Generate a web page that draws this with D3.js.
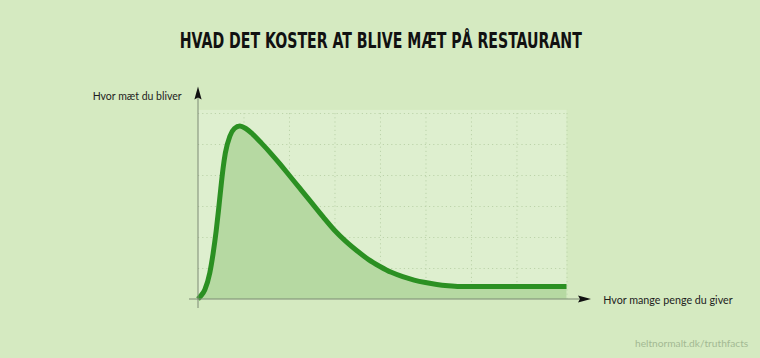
<!DOCTYPE html>
<html><head><meta charset="utf-8">
<script src="https://cdn.jsdelivr.net/npm/d3@7"></script>
<style>
html,body{margin:0;padding:0;background:#d5eac1;}
svg{display:block;}
</style></head>
<body>
<svg id="c" width="760" height="358"></svg>
<script>
// ---- data ----
const title = "HVAD DET KOSTER AT BLIVE MÆT PÅ RESTAURANT";
const yLabel = "Hvor mæt du bliver";
const xLabel = "Hvor mange penge du giver";
const credit = "heltnormalt.dk/truthfacts";
// money spent (grid units)
const money = [0, 0.05, 0.15, 0.26, 0.33, 0.4, 0.45, 0.5, 0.55, 0.6, 0.7, 0.8, 0.92, 1.05, 1.2, 1.4, 1.6, 1.8, 2.0, 2.25, 2.5, 2.75, 3.0, 3.25, 3.5, 3.75, 4.0, 4.25, 4.5, 4.75, 5.0, 5.25, 5.5, 5.75, 6.0, 8.1];
// how full you get (grid units)
const fullness = [0, 0.08, 0.3, 0.85, 1.45, 2.2, 2.85, 3.55, 4.2, 4.7, 5.25, 5.5, 5.58, 5.5, 5.32, 5.02, 4.7, 4.36, 4.0, 3.55, 3.1, 2.65, 2.22, 1.86, 1.55, 1.27, 1.05, 0.86, 0.72, 0.61, 0.53, 0.47, 0.43, 0.405, 0.4, 0.4];
const xGridTicks = [1, 2, 3, 4, 5, 6, 7];
const yGridTicks = [1, 2, 3, 4, 5, 6];

const pts = money.map((m, i) => ({x: m, y: fullness[i]}));

const svg = d3.select("#c");
const x = d3.scaleLinear().domain([0, 8.1]).range([198, 566.5]);
const y = d3.scaleLinear().domain([0, 6]).range([299, 113]);

// background
svg.append("rect").attr("width", 760).attr("height", 358).attr("fill", "#d5eac1");
// plot panel
svg.append("rect")
  .attr("x", x(0)).attr("y", y(6.1))
  .attr("width", x(8.1) - x(0)).attr("height", y(0) - y(6.1))
  .attr("fill", "#deefcf");

// grid via axes
const gridStyle = g => {
  g.select(".domain").remove();
  g.selectAll("text").remove();
  g.selectAll("line").attr("stroke", "#bcd3aa").attr("stroke-width", 1).attr("stroke-dasharray", "1.2,3");
};
svg.append("g").attr("transform", `translate(0,${y(0)})`)
  .call(d3.axisBottom(x).tickValues(xGridTicks).tickSize(-(y(0) - y(6))).tickFormat(""))
  .call(gridStyle);
svg.append("g").attr("transform", `translate(${x(0)},0)`)
  .call(d3.axisLeft(y).tickValues(yGridTicks).tickSize(-(x(8.1) - x(0))).tickFormat(""))
  .call(gridStyle);
// right dotted border
svg.append("g").attr("transform", `translate(0,${y(0)})`)
  .call(d3.axisBottom(x).tickValues([8.1]).tickSize(-(y(0) - y(6.1))).tickFormat(""))
  .call(gridStyle);

// area + line
const curve = d3.curveMonotoneX;
svg.append("path").datum(pts)
  .attr("d", d3.area().x(d => x(d.x)).y0(y(0)).y1(d => y(d.y)).curve(curve))
  .attr("fill", "#b6d9a2");
svg.append("path").datum(pts)
  .attr("d", d3.line().x(d => x(d.x)).y(d => y(d.y)).curve(curve))
  .attr("fill", "none").attr("stroke", "#2b9022").attr("stroke-width", 5)
  .attr("stroke-linejoin", "round").attr("stroke-linecap", "butt");

// axes lines
svg.append("line").attr("x1", x(0)).attr("x2", x(0)).attr("y1", 97).attr("y2", 308)
  .attr("stroke", "#7d8a74").attr("stroke-width", 1);
svg.append("line").attr("x1", 189).attr("x2", 584).attr("y1", y(0)).attr("y2", y(0))
  .attr("stroke", "#7d8a74").attr("stroke-width", 1);
// arrowheads
const ax = x(0);
svg.append("path")
  .attr("d", `M${ax},86.5 L${ax + 3.6},99.5 L${ax},97.5 L${ax - 3.6},99.5 Z`)
  .attr("fill", "#111");
const ay = y(0);
svg.append("path")
  .attr("d", `M591,${ay} L578,${ay - 3.6} L580,${ay} L578,${ay + 3.6} Z`)
  .attr("fill", "#111");

// text
function fitText(sel, w) {
  const n = sel.node();
  const cur = n.getComputedTextLength();
  const fs = parseFloat(sel.attr("font-size"));
  sel.attr("font-size", (fs * w / cur).toFixed(2));
}
const t = svg.append("text").attr("x", 380.8).attr("y", 48.3).attr("text-anchor", "middle")
  .attr("font-family", "'Liberation Sans Narrow','DejaVu Sans Condensed',sans-serif")
  .attr("font-weight", "bold").attr("font-size", 21).attr("fill", "#111")
  .text(title);
t.attr("textLength", 402).attr("lengthAdjust", "spacingAndGlyphs");

const yl = svg.append("text").attr("x", 92.7).attr("y", 100)
  .attr("font-family", "Lato, 'Open Sans', sans-serif").attr("font-size", 11).attr("fill", "#1d1d1d")
  .text(yLabel);
fitText(yl, 89);
const xl = svg.append("text").attr("x", 603.3).attr("y", 303.5)
  .attr("font-family", "Lato, 'Open Sans', sans-serif").attr("font-size", 11).attr("fill", "#1d1d1d")
  .text(xLabel);
fitText(xl, 129.4);
const cr = svg.append("text").attr("x", 635).attr("y", 347)
  .attr("font-family", "Lato, 'Open Sans', sans-serif").attr("font-size", 11).attr("fill", "#a3b993")
  .text(credit);
fitText(cr, 113.3);
</script>
</body></html>
